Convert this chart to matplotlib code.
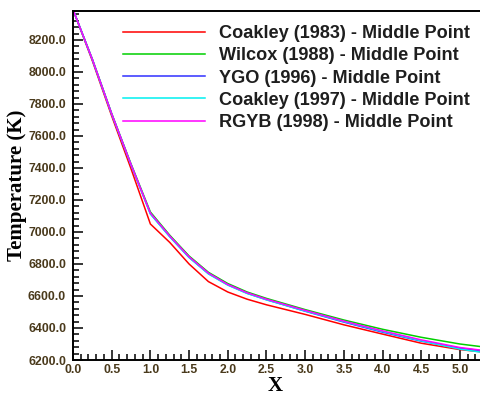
import matplotlib
matplotlib.use("Agg")
import matplotlib.pyplot as plt
from matplotlib.ticker import MultipleLocator, FormatStrFormatter

# Position along the domain
x = [0.0, 0.25, 0.5, 0.75, 1.0, 1.25, 1.5, 1.75, 2.0, 2.25, 2.5, 3.0, 3.5, 4.0, 4.5, 5.0, 5.3]

# Temperature (K) at the middle point for each turbulence model
coakley_1983 = [8390, 8070, 7725, 7395, 7050, 6935, 6800, 6690, 6625, 6580, 6545, 6485, 6420, 6362, 6305, 6265, 6250]
wilcox_1988 = [8390, 8080, 7740, 7425, 7125, 6980, 6850, 6748, 6678, 6625, 6585, 6515, 6450, 6392, 6342, 6300, 6282]
ygo_1996 = [8390, 8078, 7737, 7420, 7115, 6972, 6842, 6740, 6670, 6617, 6577, 6505, 6437, 6374, 6318, 6274, 6257]
coakley_1997 = [8390, 8078, 7736, 7419, 7112, 6970, 6840, 6738, 6668, 6616, 6576, 6506, 6440, 6378, 6320, 6268, 6247]
rgyb_1998 = [8390, 8079, 7738, 7421, 7118, 6975, 6845, 6743, 6672, 6620, 6580, 6510, 6443, 6382, 6326, 6278, 6260]

labels = [
    "Coakley (1983) - Middle Point",
    "Wilcox (1988) - Middle Point",
    "YGO (1996) - Middle Point",
    "Coakley (1997) - Middle Point",
    "RGYB (1998) - Middle Point",
]
colors = ["#ff0000", "#00d000", "#3030ff", "#00f0f0", "#ff00ff"]
series = [coakley_1983, wilcox_1988, ygo_1996, coakley_1997, rgyb_1998]

fig = plt.figure(figsize=(4.8, 3.96), dpi=100)
ax = fig.add_axes([73 / 480, 36 / 396, 407 / 480, 349 / 396])

for y, c, lab in zip(series, colors, labels):
    ax.plot(x, y, color=c, lw=1.1, label=lab)

ax.set_xlim(0, 5.26)
ax.set_ylim(6200, 8381)

ax.xaxis.set_major_locator(MultipleLocator(0.5))
ax.xaxis.set_minor_locator(MultipleLocator(0.1))
ax.yaxis.set_major_locator(MultipleLocator(200))
ax.yaxis.set_minor_locator(MultipleLocator(40))
ax.xaxis.set_major_formatter(FormatStrFormatter("%.1f"))
ax.yaxis.set_major_formatter(FormatStrFormatter("%.1f"))

tick_color = "#4a3a1c"
ax.tick_params(which="both", direction="in", width=1.1, color="black",
               top=False, right=False)
ax.tick_params(which="major", length=7.5)
ax.tick_params(which="minor", length=4)
ax.tick_params(axis="y", pad=5)
ax.tick_params(axis="x", pad=3)
for t in ax.get_xticklabels() + ax.get_yticklabels():
    t.set_fontfamily("Liberation Sans")
    t.set_fontweight("bold")
    t.set_fontsize(8.8)
    t.set_color(tick_color)

for s in ("left", "bottom", "top"):
    ax.spines[s].set_linewidth(1.4)
    ax.spines[s].set_color("black")
ax.spines["right"].set_visible(False)

# Axis titles
fig.text(275 / 480, 1 - 391 / 396, "X", ha="center", va="baseline",
         fontfamily="Liberation Serif", fontweight="bold", fontsize=15)
ax.set_ylabel("Temperature (K)", fontfamily="Liberation Serif", fontweight="bold", fontsize=15)
ax.yaxis.set_label_coords(-0.113, 0.50)

leg = ax.legend(loc="upper left", bbox_to_anchor=(123 / 480, 1 - 25 / 396),
                bbox_transform=fig.transFigure, frameon=False,
                prop={"family": "Liberation Sans", "weight": "bold", "size": 13.1},
                handlelength=4.5, handletextpad=0.75, labelspacing=0.29,
                borderpad=0, borderaxespad=0)
for t in leg.get_texts():
    t.set_color("#1e1e1e")

fig.savefig("out.png", dpi=100)
